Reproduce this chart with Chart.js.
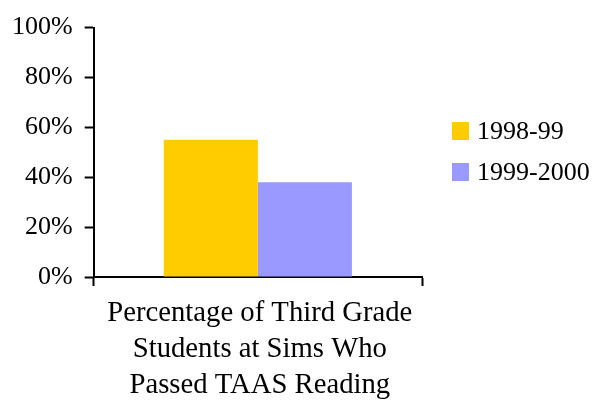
<!DOCTYPE html>
<html>
<head>
<meta charset="utf-8">
<script src="https://cdn.jsdelivr.net/npm/chart.js@4"></script>
<style>
  html, body { margin: 0; padding: 0; background: #fff; }
  #wrap { width: 592px; height: 402px; position: relative; }
</style>
</head>
<body>
<div id="wrap"><canvas id="taasChart"></canvas></div>
<script>
// 데이터
const categories = [["Percentage of Third Grade", "Students at Sims Who", "Passed TAAS Reading"]];
const seriesNames = ["1998-99", "1999-2000"];
const values9899 = [55];
const values9900 = [38];
const yTicks = [0, 20, 40, 60, 80, 100];

const serif = "'Liberation Serif', 'Times New Roman', serif";

// 오른쪽 범례 (직접 그림)
const sideLegend = {
  id: "sideLegend",
  afterDraw(chart) {
    const { ctx } = chart;
    const x = 452;
    const rows = [131, 172];
    ctx.save();
    ctx.font = "26px " + serif;
    ctx.textBaseline = "middle";
    chart.data.datasets.forEach((ds, i) => {
      ctx.fillStyle = ds.backgroundColor;
      ctx.fillRect(x, rows[i] - 9, 17, 18);
      ctx.fillStyle = "#000";
      ctx.fillText(ds.label, x + 25, rows[i] + 1);
    });
    ctx.restore();
  },
};

// x축 카테고리 라벨 (여러 줄, 직접 그림)
const categoryLabel = {
  id: "categoryLabel",
  afterDraw(chart) {
    const { ctx, chartArea } = chart;
    const xScale = chart.scales.x;
    ctx.save();
    ctx.font = "28.7px " + serif;
    ctx.fillStyle = "#000";
    ctx.textAlign = "center";
    ctx.textBaseline = "middle";
    chart.data.labels.forEach((lines, idx) => {
      const cx = xScale.getPixelForValue(idx) + 2;
      lines.forEach((line, i) => {
        ctx.fillText(line, cx, chartArea.bottom + 36 + i * 36);
      });
    });
    ctx.restore();
  },
};

const ctx = document.getElementById("taasChart").getContext("2d");
new Chart(ctx, {
  type: "bar",
  data: {
    labels: categories,
    datasets: [
      {
        label: seriesNames[0],
        data: values9899,
        backgroundColor: "#FFCC00",
      },
      {
        label: seriesNames[1],
        data: values9900,
        backgroundColor: "#9999FF",
      },
    ],
  },
  options: {
    responsive: true,
    maintainAspectRatio: false,
    animation: false,
    layout: { padding: { top: 6, right: 170, left: 0, bottom: 116 } },
    datasets: {
      bar: { barPercentage: 1, categoryPercentage: 0.573 },
    },
    scales: {
      x: {
        grid: {
          drawOnChartArea: false,
          tickLength: 9,
          tickWidth: 2,
          tickColor: "#000",
          offset: true,
        },
        border: { color: "#000", width: 2 },
        ticks: { display: false },
      },
      y: {
        min: 0,
        max: 100,
        afterBuildTicks(scale) {
          scale.ticks = yTicks.map((v) => ({ value: v }));
        },
        grid: {
          drawOnChartArea: false,
          tickLength: 9,
          tickWidth: 2,
          tickColor: "#000",
        },
        border: { color: "#000", width: 2 },
        ticks: {
          color: "#000",
          padding: 12,
          font: { family: serif, size: 26 },
          callback: (v) => v + "%",
        },
      },
    },
    plugins: {
      tooltip: { enabled: false },
      legend: { display: false },
    },
  },
  plugins: [sideLegend, categoryLabel],
});
</script>
</body>
</html>
